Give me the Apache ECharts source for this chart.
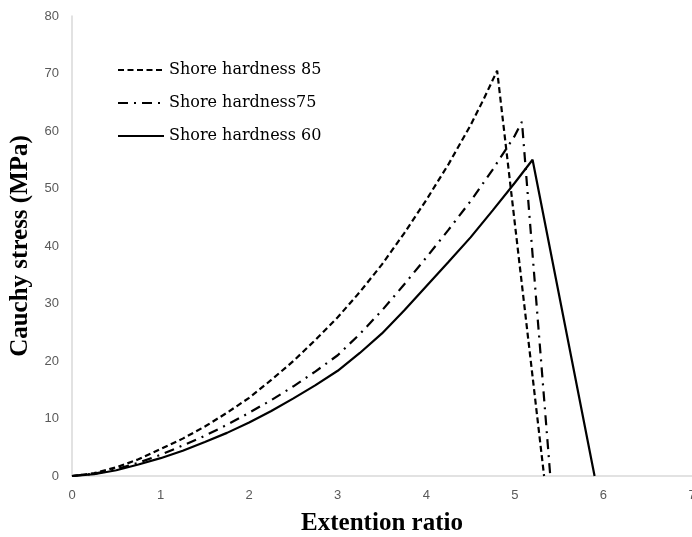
<!DOCTYPE html>
<html>
<head>
<meta charset="utf-8">
<script src="https://cdn.jsdelivr.net/npm/echarts@6/dist/echarts.min.js"></script>
<style>html,body{margin:0;padding:0;background:#fff}#c{width:692px;height:537px}</style>
</head>
<body>
<div id="c"></div>
<script>
var seriesNames = ['Shore hardness 85', 'Shore hardness75', 'Shore hardness 60'];
var x85 = [0, 0.25, 0.5, 0.75, 1, 1.25, 1.5, 1.75, 2, 2.25, 2.5, 2.75, 3, 3.25, 3.5, 3.75, 4, 4.25, 4.5, 4.65, 4.8, 5.33];
var y85 = [0, 0.5, 1.5, 2.9, 4.7, 6.5, 8.6, 11.0, 13.6, 16.7, 20.0, 23.7, 27.6, 32.0, 36.8, 42.2, 48.0, 54.2, 61.0, 65.6, 70.5, 0];
var x75 = [0, 0.25, 0.5, 0.75, 1, 1.25, 1.5, 1.75, 2, 2.25, 2.5, 2.75, 3, 3.25, 3.5, 3.75, 4, 4.25, 4.5, 4.75, 5, 5.08, 5.4];
var y75 = [0, 0.4, 1.2, 2.3, 3.7, 5.3, 7.0, 8.9, 11.0, 13.2, 15.6, 18.2, 21.0, 24.7, 28.8, 33.3, 38.0, 42.8, 47.8, 53.3, 59.2, 61.6, 0];
var x60 = [0, 0.25, 0.5, 0.75, 1, 1.25, 1.5, 1.75, 2, 2.25, 2.5, 2.75, 3, 3.25, 3.5, 3.75, 4, 4.25, 4.5, 4.75, 5, 5.2, 5.9];
var y60 = [0, 0.3, 1.0, 2.0, 3.1, 4.4, 5.9, 7.5, 9.3, 11.3, 13.5, 15.8, 18.3, 21.4, 24.8, 28.8, 33.0, 37.2, 41.5, 46.2, 51.0, 55.0, 0];
var xTicks = [0, 1, 2, 3, 4, 5, 6, 7];
var yTicks = [0, 10, 20, 30, 40, 50, 60, 70, 80];

function pairs(xs, ys) { return xs.map(function (v, i) { return [v, ys[i]]; }); }

var chart = echarts.init(document.getElementById('c'));
chart.setOption({
  animation: false,
  backgroundColor: '#fff',
  grid: { left: 72, right: 0, top: 16, bottom: 61, containLabel: false, outerBoundsMode: 'none' },
  legend: {
    orient: 'vertical', left: 112, top: 57, itemWidth: 46, itemHeight: 14, itemGap: 17,
    data: seriesNames,
    itemStyle: { opacity: 0 },
    textStyle: { fontFamily: 'DejaVu Serif', fontSize: 16, color: '#000' }
  },
  xAxis: {
    type: 'value', min: 0, max: 7, interval: 1,
    name: 'Extention ratio', nameLocation: 'middle', nameGap: 35,
    nameTextStyle: { fontFamily: 'Liberation Serif', fontWeight: 'bold', fontSize: 25, color: '#000' },
    axisLine: { show: true, lineStyle: { color: '#d9d9d9', width: 1.5 } },
    axisTick: { show: false },
    splitLine: { show: false },
    axisLabel: { color: '#595959', fontFamily: 'Liberation Sans', fontSize: 13, margin: 13,
      formatter: function (v) { return xTicks.indexOf(v) >= 0 ? String(v) : ''; } }
  },
  yAxis: {
    type: 'value', min: 0, max: 80, interval: 10,
    name: 'Cauchy stress (MPa)', nameLocation: 'middle', nameGap: 39,
    nameTextStyle: { fontFamily: 'Liberation Serif', fontWeight: 'bold', fontSize: 25, color: '#000' },
    axisLine: { show: true, lineStyle: { color: '#d9d9d9', width: 1.5 } },
    axisTick: { show: false },
    splitLine: { show: false },
    axisLabel: { color: '#595959', fontFamily: 'Liberation Sans', fontSize: 13, margin: 13,
      formatter: function (v) { return yTicks.indexOf(v) >= 0 ? String(v) : ''; } }
  },
  series: [
    { name: seriesNames[0], type: 'line', symbol: 'none', showSymbol: false,
      data: pairs(x85, y85), lineStyle: { color: '#000', width: 2.2, type: [6, 3.5] }, itemStyle: { color: '#000' } },
    { name: seriesNames[1], type: 'line', symbol: 'none', showSymbol: false,
      data: pairs(x75, y75), lineStyle: { color: '#000', width: 2.2, type: [10, 6, 2, 6] }, itemStyle: { color: '#000' } },
    { name: seriesNames[2], type: 'line', symbol: 'none', showSymbol: false,
      data: pairs(x60, y60), lineStyle: { color: '#000', width: 2.2, type: 'solid' }, itemStyle: { color: '#000' } }
  ]
});
</script>
</body>
</html>
